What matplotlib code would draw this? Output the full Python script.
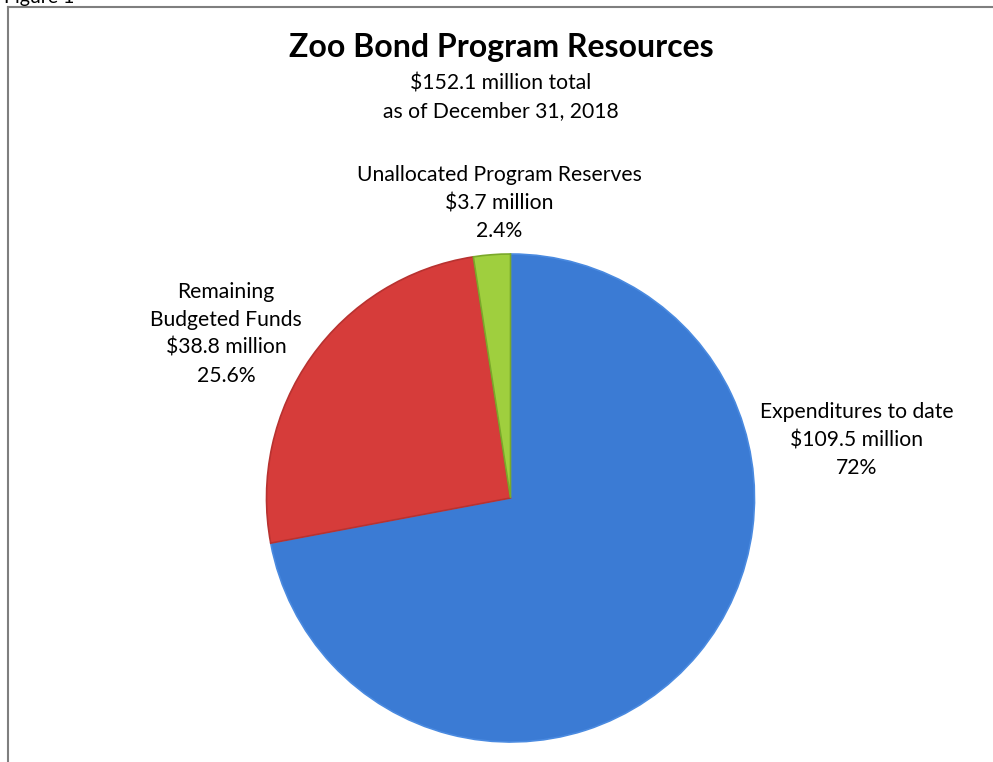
import matplotlib
matplotlib.use('Agg')
import matplotlib.pyplot as plt
from matplotlib.lines import Line2D

plt.rcParams['font.family'] = ['Lato', 'DejaVu Sans']

categories = ['Expenditures to date', 'Remaining\nBudgeted Funds', 'Unallocated Program Reserves']
amounts = [109.5, 38.8, 3.7]          # $ million
pct_labels = ['72%', '25.6%', '2.4%']
colors = ['#3b7bd4', '#d63c3a', '#9fcf3e']
edge_colors = ['#4a8ae0', '#b83230', '#7aa82a']

W, H = 993, 762
fig = plt.figure(figsize=(W / 100, H / 100), dpi=100)

def fx(px):
    return px / W

def fy(py):
    return 1 - py / H

# pie axes placed so the disc sits where it does in the original
cx, cy, r = 510.5, 498, 244
ax = fig.add_axes([fx(cx - r), fy(cy + r), 2 * r / W, 2 * r / H])
wedges, _ = ax.pie(amounts, colors=colors, startangle=90, counterclock=False,
                   radius=1.0, wedgeprops=dict(linewidth=1.2))
for w, ec in zip(wedges, edge_colors):
    w.set_edgecolor(ec)
ax.set_xlim(-1, 1)
ax.set_ylim(-1, 1)
ax.set_aspect('equal')
ax.axis('off')

# frame lines (cut off at right/bottom)
fig.add_artist(Line2D([fx(8), fx(8)], [fy(7), 0], color='#7f7f7f', lw=1.5))
fig.add_artist(Line2D([fx(8), 1], [fy(7), fy(7)], color='#7f7f7f', lw=1.5))
fig.text(fx(4), fy(-3), 'Figure 1', ha='left', va='center', fontsize=14)

# titles
fig.text(fx(501), fy(48), 'Zoo Bond Program Resources', ha='center', va='center',
         fontsize=23, fontweight='bold')
fig.text(fx(501), fy(84), '$152.1 million total', ha='center', va='center', fontsize=15.2)
fig.text(fx(501), fy(111), 'as of December 31, 2018', ha='center', va='center', fontsize=15.2)

# slice labels
label_pos = [(857, 440), (226, 334), (499, 203)]
for cat, amt, pct, (px, py) in zip(categories, amounts, pct_labels, label_pos):
    txt = '{}\n${:.1f} million\n{}'.format(cat, amt, pct)
    fig.text(fx(px), fy(py), txt, ha='center', va='center', fontsize=15.2,
             linespacing=1.5)

plt.savefig('out.png', dpi=100)
